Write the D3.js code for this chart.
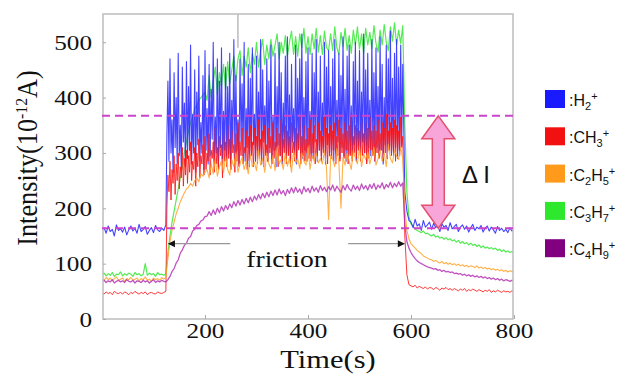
<!DOCTYPE html>
<html><head><meta charset="utf-8">
<script src="https://cdn.jsdelivr.net/npm/d3@7"></script>
<style>body{margin:0;background:#fff}svg{display:block}</style>
</head><body><svg id="c" width="632" height="383"></svg>
<script>
// ---------------- DATA ----------------
const step = 4;               // sampling step (s) for baselines and smooth series
const fineStep = 2;           // sampling step (s) for the spiky friction segments
const frictionStart = 124;    // first friction sample time
const postStart = 588;        // first post-friction sample time
const xTicks = [200, 400, 600, 800];
const yTicks = [0, 100, 200, 300, 400, 500];
const ionNames = [":H_2^+", ":CH_3^+", ":C_2H_5^+", ":C_3H_7^+", ":C_4H_9^+"];
const ionColors = ["#1a1aff", "#f21010", "#ff9a1a", "#2ee82e", "#800080"];
const lineColors = ["#2222ff", "#ff1515", "#ffa228", "#36e836", "#b535b5"];
const deltaLevels = [367, 164];
const frictionSpan = [128, 588];
const frictionLabelY = 136;

// H2+ (friction segment sampled every 2 s)
const h2Pre = [160,165,155,168,158,162,150,170,160,163,157,166,152,161,168,159,164,155,171,158,162,167,153,160,165,156,169,161,158,164,160];
const h2Fric = [170,
 330,430,285,470,300,360,265,445,310,400,280,480,295,350,270,455,320,390,275,465,
 290,420,305,495,280,370,300,450,265,410,315,475,285,355,300,440,270,485,305,380,
 280,460,295,415,325,500,285,365,300,470,275,430,310,490,290,375,305,455,280,420,
 300,480,270,395,315,505,290,440,305,360,280,470,320,425,295,500,285,380,310,460,
 275,435,300,490,315,370,285,475,305,410,295,505,280,450,320,385,300,470,285,430,
 310,495,290,365,305,480,275,420,315,500,295,445,280,390,310,475,290,510,300,405,
 285,460,320,380,295,495,280,435,310,470,300,515,290,400,305,465,285,490,315,375,
 300,480,290,445,320,505,285,410,305,475,295,390,310,500,280,455,315,485,295,420,
 305,470,285,505,300,395,320,480,290,440,310,510,295,415,285,475,305,495,300,385,
 290,465,315,500,285,430,305,485,295,410,320,515,300,450,285,480,310,395,295,505,
 300,445,285,490,310,420,295,510,305,460,280,400,315,495,290,470,305,520,300,435,
 295,480,310,505,290,455,305,495,315,460];
const h2Post = [230,195,178,
 175,165,180,168,172,160,178,166,170,175,162,173,165,170,158,172,166,169,160,174,
 163,167,171,158,166,170,162,168,157,165,171,160,166,163,169,157,164,168,159,166,
 161,155,167,160,164,158,162,156,165,159,161];
// CH3+ (friction segment sampled every 2 s)
const ch3Pre = [47,45,49,46,48,44,50,47,46,48,45,49,47,44,48,46,50,47,45,48,46,49,44,47,48,46,45,49,47,46,48];
const ch3Fric = [50,
 200,260,230,285,215,270,245,295,225,280,250,300,235,275,255,310,240,290,260,305,
 245,295,265,320,250,285,270,310,240,300,275,325,255,295,280,315,260,330,270,300,
 285,335,260,305,290,320,265,345,280,310,270,330,295,315,255,340,285,320,275,350,
 290,325,270,340,300,315,265,335,285,355,275,320,295,345,280,310,300,340,270,330,
 285,350,295,320,275,345,305,330,280,360,290,325,300,340,275,350,295,315,285,345,
 300,330,280,355,290,320,305,345,275,335,295,360,285,325,300,350,280,340,295,330,
 275,355,300,320,285,345,290,335,305,365,280,330,295,350,285,325,300,345,290,360,
 285,335,300,350,280,325,295,355,305,340,285,330,300,365,290,345,280,335,300,350,
 290,340,305,355,280,330,295,360,285,345,300,335,290,355,305,340,280,350,295,365,
 285,330,300,350,290,345,305,340,285,360,295,335,300,355,280,345,290,365,305,340,
 295,350,285,340,300,360,290,335,305,355,285,345,300,370,290,340,305,355,295,345,
 300,360,285,350,305,340,295,365,310,330];
const ch3Post = [150,80,62,
 60,58,61,56,59,57,55,58,54,57,56,53,57,55,52,56,54,57,53,55,
 52,55,53,51,54,52,55,50,53,51,54,52,50,53,51,49,52,50,53,48,
 51,49,52,50,48,51,49,50,48,51,49];
// C2H5+
const c2h5Pre = [72,70,75,71,74,69,73,76,70,72,74,68,73,71,75,70,72,74,69,73,71,76,70,72,68,74,71,73,70,75,72];
const c2h5Fric = [75,110,140,160,175,190,200,212,220,228,235,238,245,240,250,255,248,262,258,265,
 270,255,280,262,290,258,275,285,265,295,
 270,260,288,275,300,265,280,292,270,285,
 262,298,275,283,268,305,278,290,265,300,
 280,272,295,268,310,280,288,270,302,276,
 292,265,305,282,290,272,300,285,278,310,
 270,295,285,300,282,290,280,305,272,180,
 296,288,275,308,282,200,292,278,300,285,
 270,305,290,280,312,275,298,288,302,280,
 295,310,278,290,305,285,300,275,315,290,
 282,305,295,288,310,290];
const c2h5Post = [200,160,145,
 136,132,128,124,121,118,114,112,110,108,
 107,104,106,103,101,104,100,102,99,101,
 98,100,97,99,96,98,95,97,94,96,
 95,93,96,92,94,91,93,90,92,89,
 91,88,90,87,89,86,88,85,87,86,85];
// C3H7+
const c3h7Pre = [80,83,78,82,79,84,77,81,80,85,78,82,79,83,81,77,84,80,82,78,81,100,79,83,80,82,77,84,80,81,79];
const c3h7Fric = [82,120,150,175,195,215,235,255,275,300,320,340,355,365,380,385,395,400,405,410,
 395,440,400,430,455,405,445,420,460,415,
 465,425,450,475,430,470,485,440,475,455,
 490,445,480,460,500,455,485,505,460,495,
 470,505,475,495,515,470,500,480,512,475,
 500,520,478,510,475,515,490,525,480,510,
 478,515,488,525,482,512,478,520,490,485,
 515,485,528,490,478,518,492,525,485,512,
 480,522,495,528,488,515,480,525,495,518,
 488,530,498,482,522,495,532,500,485,528,
 502,535,495,522,498,530];
const c3h7Post = [350,230,185,
 172,168,162,160,158,156,159,154,155,152,
 150,153,148,150,146,148,144,147,143,145,
 141,143,139,142,137,140,136,138,134,137,
 133,135,131,134,129,132,128,130,127,129,
 126,128,124,126,122,125,121,123,120,122,119];
// C4H9+
const c4h9Pre = [68,70,66,69,67,71,65,68,70,67,69,66,71,68,67,70,65,69,68,66,70,67,69,65,68,71,66,69,67,70,68];
const c4h9Fric = [67,71,77,86,91,101,107,119,125,133,137,146,149,159,162,169,171,177,179,185,
 186,194,187,197,189,200,192,203,195,205,
 198,208,201,212,204,214,206,216,208,218,
 210,220,212,222,215,225,217,227,219,229,
 221,231,223,233,224,235,226,232,223,234,
 227,237,228,238,229,235,226,239,230,236,
 228,240,231,237,229,241,232,238,230,239,
 233,242,231,240,234,229,241,233,243,235,
 231,242,234,240,232,244,235,241,233,243,
 236,245,234,242,237,246,235,243,238,247,
 237,245,239,248,240,246];
const c4h9Post = [170,140,128,
 120,114,109,105,102,100,98,96,94,93,
 92,90,91,88,89,86,88,85,86,84,
 85,82,83,81,82,79,81,78,80,77,
 79,76,78,75,77,74,76,73,75,72,
 74,71,73,70,72,69,71,70,68,70,69];
const artifactTimes = [264];

// ---------------- BUILD ----------------
function build(pre, fric, post, fStep) {
  const pts = [];
  pre.forEach((v, i) => pts.push([i * step, v]));
  fric.forEach((v, i) => pts.push([frictionStart + i * fStep, v]));
  post.forEach((v, i) => pts.push([postStart + i * step, v]));
  return pts;
}
const series = [
  build(h2Pre, h2Fric, h2Post, fineStep),
  build(ch3Pre, ch3Fric, ch3Post, fineStep),
  build(c2h5Pre, c2h5Fric, c2h5Post, step),
  build(c3h7Pre, c3h7Fric, c3h7Post, step),
  build(c4h9Pre, c4h9Fric, c4h9Post, step)
];

const svg = d3.select("#c");
const x = d3.scaleLinear().domain([0, 800]).range([102, 514]);
const y = d3.scaleLinear().domain([0, 551]).range([319, 14]);
const serif = "'Liberation Serif','Times New Roman',serif";
const sans = "'Liberation Sans',Arial,sans-serif";

svg.append("defs").append("clipPath").attr("id", "clip")
  .append("rect").attr("x", 103).attr("y", 14).attr("width", 410).attr("height", 305);

// data lines: draw order green, blue, red, orange, purple
const order = [3, 0, 1, 2, 4];
const widths = [1.1, 1.0, 1.1, 1.2, 1.3];
const line = d3.line().x(d => x(d[0])).y(d => y(d[1]));
const gData = svg.append("g").attr("clip-path", "url(#clip)");
gData.selectAll("line.art").data(artifactTimes).enter().append("line")
  .attr("x1", d => x(d)).attr("x2", d => x(d)).attr("y1", y(551)).attr("y2", y(490))
  .attr("stroke", "#999").attr("stroke-width", 1);
order.forEach(k => {
  gData.append("path").datum(series[k]).attr("d", line)
    .attr("fill", "none").attr("stroke", lineColors[k])
    .attr("stroke-width", widths[k]).attr("stroke-opacity", 0.85)
    .attr("stroke-linejoin", "round");
});

// frame
svg.append("rect").attr("x", 103).attr("y", 14).attr("width", 410).attr("height", 305)
  .attr("fill", "none").attr("stroke", "#bdbdbd").attr("stroke-width", 1.5);

// axes
const gy = svg.append("g").attr("transform", "translate(103,0)")
  .call(d3.axisLeft(y).tickValues(yTicks).tickSize(-3).tickPadding(0));
gy.select(".domain").remove();
gy.selectAll("line").attr("stroke", "#aaa");
gy.selectAll("text").attr("x", null).attr("dy", null)
  .attr("transform", "translate(-11,7) scale(1.26,1)")
  .style("font-family", serif).style("font-size", "20px").attr("fill", "#111");

const gx = svg.append("g").attr("transform", "translate(0,319)")
  .call(d3.axisBottom(x).tickValues(xTicks).tickSize(-4).tickPadding(0));
gx.select(".domain").remove();
gx.selectAll("line").attr("stroke", "#aaa");
gx.selectAll("text").attr("y", null).attr("dy", null)
  .attr("transform", "translate(0,19) scale(1.26,1)")
  .style("font-family", serif).style("font-size", "20px").attr("fill", "#111");

// dashed delta lines
svg.selectAll("line.dl").data(deltaLevels).enter().append("line")
  .attr("x1", x(0)).attr("x2", x(800) + 4)
  .attr("y1", d => y(d)).attr("y2", d => y(d))
  .attr("stroke", "#cc44cc").attr("stroke-width", 2).attr("stroke-dasharray", "8,5");

// double arrow (delta I)
{
  const ax = x(653), yt = y(deltaLevels[0]), yb = y(deltaLevels[1]);
  const hw = 16.5, sw = 6, hh = 23;
  const p = [[ax, yt], [ax + hw, yt + hh], [ax + sw, yt + hh], [ax + sw, yb - hh], [ax + hw, yb - hh],
             [ax, yb], [ax - hw, yb - hh], [ax - sw, yb - hh], [ax - sw, yt + hh], [ax - hw, yt + hh]];
  svg.append("path").attr("d", "M" + p.map(q => q.join(",")).join("L") + "Z")
    .attr("fill", "#f8a6da").attr("stroke", "#e2506e").attr("stroke-width", 1.5);
  svg.append("text").attr("x", x(699)).attr("y", y(246)).text("Δ I")
    .style("font-family", sans).style("font-size", "24px").attr("fill", "#111");
}

// friction arrows
{
  const fy = y(frictionLabelY);
  svg.append("line").attr("x1", x(frictionSpan[0])).attr("x2", x(249)).attr("y1", fy).attr("y2", fy)
    .attr("stroke", "#999").attr("stroke-width", 1.3);
  svg.append("line").attr("x1", x(478)).attr("x2", x(frictionSpan[1])).attr("y1", fy).attr("y2", fy)
    .attr("stroke", "#999").attr("stroke-width", 1.3);
  const l = x(frictionSpan[0]), r = x(frictionSpan[1]);
  svg.append("path").attr("d", `M${l},${fy}L${l + 7},${fy - 3.5}L${l + 7},${fy + 3.5}Z`).attr("fill", "#111");
  svg.append("path").attr("d", `M${r},${fy}L${r - 7},${fy - 3.5}L${r - 7},${fy + 3.5}Z`).attr("fill", "#111");
  svg.append("text").attr("transform", `translate(${x(359)},${y(94)}) scale(1.15,1)`)
    .attr("text-anchor", "middle").text("friction")
    .style("font-family", serif).style("font-size", "24px").attr("fill", "#111");
}

// axis titles
svg.append("text").attr("transform", "translate(328,368) scale(1.22,1)")
  .attr("text-anchor", "middle").text("Time(s)")
  .style("font-family", serif).style("font-size", "25px").attr("fill", "#111");
{
  const t = svg.append("text").attr("transform", "translate(37,158) rotate(-90) scale(1.05,1.15)")
    .attr("text-anchor", "middle").style("font-family", serif).style("font-size", "25px").attr("fill", "#111");
  t.append("tspan").text("Intensity(10");
  t.append("tspan").text("-12").style("font-size", "15px").attr("baseline-shift", "9");
  t.append("tspan").text("A)");
}

// legend
function richText(sel, s) {
  const re = /([_^])(.)|([^_^]+)/g; let m;
  while ((m = re.exec(s)) !== null) {
    if (m[3]) sel.append("tspan").text(m[3]);
    else sel.append("tspan").text(m[2]).style("font-size", "11px")
      .attr("baseline-shift", m[1] === "_" ? "-4" : "6");
  }
}
const lg = svg.append("g");
ionNames.forEach((nm, i) => {
  const cy = 99 + i * 37.3;
  lg.append("rect").attr("x", 545).attr("y", cy - 9).attr("width", 20).attr("height", 18)
    .attr("fill", ionColors[i]);
  const t = lg.append("text").attr("x", 569).attr("y", cy + 7)
    .style("font-family", sans).style("font-size", "16px").attr("fill", "#111");
  richText(t, nm);
});
</script></body></html>
